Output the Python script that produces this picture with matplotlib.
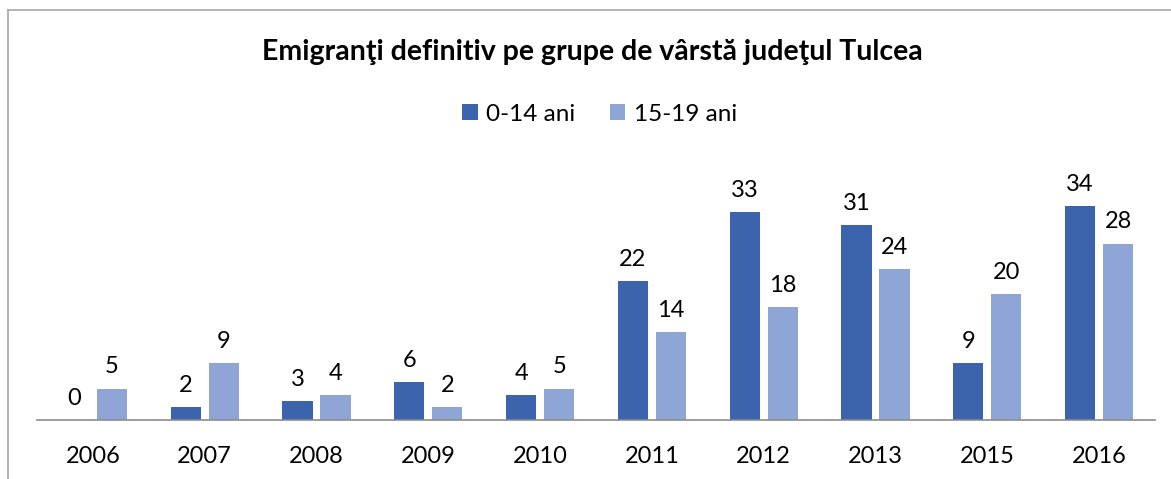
import numpy as np
import matplotlib.pyplot as plt
from matplotlib.lines import Line2D

plt.rcParams['font.family'] = ['Lato', 'DejaVu Sans']

# data
years = ['2006', '2007', '2008', '2009', '2010', '2011', '2012', '2013', '2015', '2016']
ani_0_14 = [0, 2, 3, 6, 4, 22, 33, 31, 9, 34]
ani_15_19 = [5, 9, 4, 2, 5, 14, 18, 24, 20, 28]

c_dark = '#3C64AD'
c_light = '#8FA5D5'

fig = plt.figure(figsize=(11.71, 4.79), dpi=100)
ax = fig.add_axes([0.0316, 0.123, 0.9547, 0.533])

x = np.arange(len(years))
w = 0.27
b1 = ax.bar(x - 0.17, ani_0_14, w, color=c_dark, label='0-14 ani')
b2 = ax.bar(x + 0.17, ani_15_19, w, color=c_light, label='15-19 ani')

ax.bar_label(b1, padding=8, fontsize=17)
ax.bar_label(b2, padding=8, fontsize=17)

ax.set_xlim(-0.5, len(years) - 0.5)
ax.set_ylim(0, 40.5)
ax.set_xticks(x)
ax.set_xticklabels(years, fontsize=17)
ax.tick_params(axis='x', length=0, pad=19)
ax.set_yticks([])
for s in ['top', 'right', 'left']:
    ax.spines[s].set_visible(False)
ax.spines['bottom'].set_color('#8C8C8C')
ax.spines['bottom'].set_linewidth(1.2)

fig.text(0.506, 0.891, 'Emigranţi definitiv pe grupe de vârstă judeţul Tulcea',
         ha='center', va='center', fontsize=20.5, fontweight='bold')

fig.legend(handles=[b1, b2], loc='center', bbox_to_anchor=(0.512, 0.762), ncol=2,
           frameon=False, fontsize=17.5, handlelength=0.65, handleheight=0.65,
           handletextpad=0.35, columnspacing=1.4)

# chart border (left and top edges visible)
fig.add_artist(Line2D([8 / 1171, 8 / 1171], [0, 1 - 10 / 479], color='#A6A6A6', lw=1.2))
fig.add_artist(Line2D([8 / 1171, 1], [1 - 10 / 479, 1 - 10 / 479], color='#A6A6A6', lw=1.2))

fig.savefig('out.png', dpi=100)
